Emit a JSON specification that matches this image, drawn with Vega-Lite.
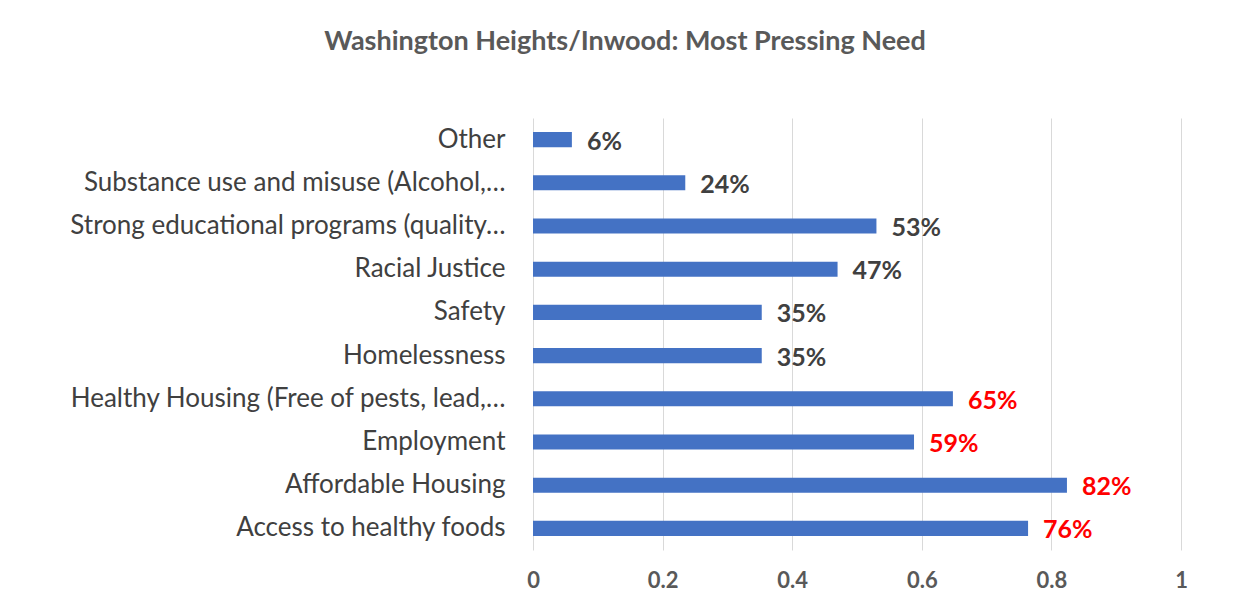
{
  "$schema": "https://vega.github.io/schema/vega-lite/v6.json",
  "width": 648,
  "height": 432,
  "autosize": {"type": "none"},
  "padding": {"left": 533, "top": 118, "right": 68, "bottom": 51},
  "background": "white",
  "title": {
    "text": "Washington Heights/Inwood: Most Pressing Need",
    "font": "Lato",
    "fontSize": 27,
    "fontWeight": "bold",
    "color": "#595959",
    "anchor": "middle",
    "dx": -232,
    "offset": 62
  },
  "config": {
    "view": {"stroke": null},
    "font": "Lato"
  },
  "data": {
    "values": [
      {"need": "Other", "pct": 0.06},
      {"need": "Substance use and misuse (Alcohol,…", "pct": 0.235},
      {"need": "Strong educational programs (quality…", "pct": 0.53},
      {"need": "Racial Justice", "pct": 0.47},
      {"need": "Safety", "pct": 0.353},
      {"need": "Homelessness", "pct": 0.353},
      {"need": "Healthy Housing (Free of pests, lead,…", "pct": 0.648},
      {"need": "Employment", "pct": 0.588},
      {"need": "Affordable Housing", "pct": 0.824},
      {"need": "Access to healthy foods", "pct": 0.764}
    ]
  },
  "encoding": {
    "y": {
      "field": "need",
      "type": "nominal",
      "sort": null,
      "scale": {"paddingInner": 0.65, "paddingOuter": 0.325},
      "axis": {
        "title": null,
        "domain": false,
        "ticks": false,
        "labelFont": "Lato",
        "labelFontSize": 26,
        "labelColor": "#404040",
        "labelPadding": 28,
        "labelLimit": 0
      }
    },
    "x": {
      "field": "pct",
      "type": "quantitative",
      "scale": {"domain": [0, 1], "nice": false},
      "axis": {
        "title": null,
        "values": [0, 0.2, 0.4, 0.6, 0.8, 1],
        "format": "~g",
        "domain": false,
        "ticks": false,
        "grid": true,
        "gridColor": "#d9d9d9",
        "gridWidth": 1,
        "labelFont": "Lato",
        "labelFontSize": 22,
        "labelFontWeight": "bold",
        "labelColor": "#595959",
        "labelPadding": 20,
        "labelFlush": false
      }
    }
  },
  "layer": [
    {"mark": {"type": "bar", "color": "#4472C4"}},
    {
      "mark": {
        "type": "text",
        "align": "left",
        "baseline": "middle",
        "dx": 15,
        "dy": 2,
        "font": "Lato",
        "fontSize": 25,
        "fontWeight": "bold"
      },
      "encoding": {
        "text": {"field": "pct", "type": "quantitative", "format": ".0%"},
        "color": {
          "condition": {"test": "datum.pct > 0.55", "value": "#ff0000"},
          "value": "#404040"
        }
      }
    }
  ]
}
